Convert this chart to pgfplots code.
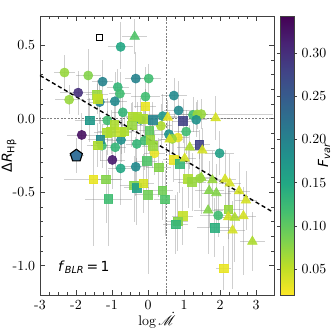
\documentclass[border=0pt]{standalone}
\usepackage{pgfplots}
\pgfplotsset{compat=1.18}
\usepackage{pgfplotstable}
\usepackage{fontspec}
\usepackage{mathrsfs}
\newfontfamily\dvs{DejaVu Sans}

% reversed viridis (yellow = low Fvar)
\pgfplotsset{colormap={viridisr}{
  rgb255=(253,231,37) rgb255=(189,223,38) rgb255=(122,209,81) rgb255=(68,191,112)
  rgb255=(34,168,132) rgb255=(33,145,140) rgb255=(42,120,142) rgb255=(53,95,141)
  rgb255=(65,68,135) rgb255=(72,36,117) rgb255=(68,1,84)}}
\definecolor{pentcol}{RGB}{55,115,155}

% x y Fvar xerr yerr- yerr+
\pgfplotstableread{
x y c ex eym eyp
-0.76  0.490 0.15 0.35 0.15 0.17
-2.32  0.315 0.07 0.30 0.12 0.12
-1.66  0.295 0.08 0.35 0.30 0.18
-1.26  0.253 0.20 0.30 0.12 0.15
-0.34  0.274 0.20 0.30 0.20 0.18
 0.02  0.274 0.12 0.35 0.10 0.10
-1.94  0.178 0.30 0.50 0.15 0.15
-2.19  0.130 0.07 0.40 0.10 0.10
-0.84  0.216 0.13 0.30 0.10 0.12
-0.78  0.171 0.12 0.30 0.15 0.15
-1.34  0.114 0.20 0.30 0.15 0.15
-0.92  0.119 0.19 0.35 0.20 0.20
-0.07  0.151 0.12 0.40 0.20 0.20
 0.72  0.158 0.19 0.35 0.15 0.12
 0.85  0.057 0.19 0.40 0.20 0.20
-0.70  0.044 0.13 0.30 0.15 0.15
-1.13 -0.011 0.12 0.40 0.15 0.15
-0.20 -0.007 0.18 0.35 0.15 0.15
 0.41  0.018 0.17 0.40 0.15 0.15
 1.25  0.027 0.12 0.40 0.12 0.12
 1.48  0.032 0.07 2.00 0.10 0.10
 1.37  0.030 0.07 0.30 0.10 0.10
 1.34 -0.007 0.18 0.30 0.12 0.12
 0.36 -0.048 0.06 0.30 0.15 0.15
-1.84 -0.110 0.33 0.40 0.15 0.15
 0.58 -0.105 0.18 0.40 0.15 0.15
 1.06 -0.087 0.12 0.35 0.15 0.15
 0.83 -0.128 0.03 0.30 0.12 0.12
 0.67 -0.137 0.07 0.30 0.12 0.12
-0.75 -0.144 0.18 0.35 0.15 0.15
-0.10 -0.149 0.12 0.35 0.20 0.20
-1.28 -0.183 0.12 0.30 0.15 0.15
-0.91 -0.194 0.13 0.30 0.15 0.15
-0.31 -0.171 0.13 0.30 0.15 0.15
 0.18 -0.235 0.03 0.30 0.15 0.15
-0.99 -0.280 0.32 0.35 0.20 0.20
-0.34 -0.327 0.19 0.35 0.20 0.20
-0.76 -0.338 0.15 0.35 0.25 0.20
 1.99 -0.235 0.16 0.40 0.15 0.15
 1.44 -0.406 0.07 0.40 0.20 0.20
 1.95 -0.658 0.12 0.50 0.15 0.15
}\circles

\pgfplotstableread{
x y c ex eym eyp
-1.42  0.164 0.07 0.30 0.10 0.10
-1.40  0.135 0.05 0.30 0.10 0.10
-0.08  0.084 0.03 0.30 0.12 0.12
-1.62 -0.011 0.17 0.40 0.15 0.15
-0.43  0.016 0.06 0.30 0.10 0.10
-0.30  0.012 0.06 0.30 0.10 0.10
-0.14  0.000 0.06 0.30 0.10 0.10
 0.13 -0.007 0.20 0.35 0.12 0.12
 0.97 -0.014 0.28 0.30 0.15 0.15
 1.42 -0.177 0.28 0.30 0.10 0.10
-1.14 -0.094 0.06 0.35 0.15 0.15
-1.03 -0.087 0.06 0.35 0.15 0.15
-0.94 -0.041 0.06 0.30 0.15 0.15
-0.75 -0.090 0.05 0.30 0.15 0.15
-0.66 -0.085 0.06 0.30 0.15 0.15
-0.45 -0.045 0.07 0.30 0.15 0.15
 0.04 -0.082 0.10 0.30 0.15 0.15
-1.33 -0.139 0.19 0.35 0.15 0.15
-1.40 -0.180 0.06 0.30 0.15 0.15
 0.06 -0.144 0.07 0.30 0.15 0.15
 0.13 -0.185 0.07 0.30 0.15 0.15
-0.04 -0.288 0.11 0.30 0.20 0.20
 0.30 -0.331 0.08 0.35 0.20 0.20
 0.71 -0.278 0.03 0.30 0.15 0.15
 0.88 -0.306 0.13 0.35 0.20 0.20
 1.11 -0.410 0.06 0.40 0.20 0.20
 1.22 -0.430 0.07 0.40 0.20 0.20
-0.39 -0.452 0.08 0.40 0.25 0.20
-0.32 -0.470 0.16 0.35 0.25 0.20
-0.13 -0.440 0.04 0.30 0.20 0.20
 0.00 -0.516 0.09 0.35 0.54 0.20
 0.40 -0.486 0.09 0.30 0.20 0.20
 0.47 -0.548 0.11 0.30 0.25 0.20
 0.96 -0.662 0.05 0.30 0.20 0.20
 0.82 -0.699 0.08 0.30 0.20 0.20
 0.77 -0.719 0.13 0.35 0.20 0.20
-1.52 -0.413 0.03 0.80 0.45 0.25
-1.17 -0.413 0.08 0.40 0.30 0.20
-1.10 -0.546 0.12 0.65 0.32 0.20
 2.23 -0.616 0.07 0.40 0.20 0.20
 1.85 -0.742 0.14 0.50 0.20 0.20
 2.10 -1.018 0.03 0.20 0.15 0.15
}\squares

\pgfplotstableread{
x y c ex eym eyp
-0.37  0.560 0.11 0.35 0.12 0.12
 0.55  0.009 0.03 0.30 0.12 0.12
 1.88  0.005 0.04 0.45 0.15 0.15
 1.51 -0.215 0.04 0.35 0.15 0.15
 1.16 -0.194 0.06 0.35 0.15 0.15
 1.02 -0.270 0.04 0.30 0.15 0.15
 0.60 -0.140 0.04 0.30 0.15 0.15
 1.48 -0.400 0.07 0.40 0.25 0.20
 1.79 -0.418 0.07 0.40 0.20 0.20
 2.14 -0.413 0.04 0.30 0.20 0.20
 2.27 -0.440 0.04 0.30 0.20 0.20
 2.53 -0.493 0.04 0.30 0.20 0.20
 2.72 -0.555 0.04 0.30 0.20 0.20
 1.70 -0.490 0.08 0.40 0.25 0.20
 1.90 -0.505 0.08 0.40 0.25 0.20
 1.67 -0.623 0.08 0.40 0.30 0.20
 2.23 -0.669 0.04 0.35 0.35 0.20
 2.41 -0.673 0.06 0.35 0.30 0.20
 2.65 -0.662 0.04 0.35 0.40 0.20
 2.35 -0.760 0.04 0.35 0.40 0.20
 2.90 -0.836 0.06 0.35 0.20 0.20
}\triangles

\pgfplotstableread{
x y c ex eym eyp
-1.99 -0.251 0.23 0.20 0.12 0.12
}\pentagon

% error bars only, no markers and no line
\pgfplotsset{
  errs/.style = {forget plot, draw=none, mark=none,
    error bars/.cd, x dir=both, x explicit, y dir=both, y explicit,
    error mark=none,
    error bar style={draw=gray, line width=0.5pt, draw opacity=0.38}},
}

\begin{document}
\begin{tikzpicture}
  \useasboundingbox (-28.8pt,-26.64pt) rectangle (210.24pt,212.4pt);
  \begin{axis}[
      scale only axis,
      width            = 168.48pt,
      height           = 200.88pt,
      xmin = -3, xmax = 3.5,
      ymin = -1.2, ymax = 0.7,
      xtick            = {-3,-2,-1,0,1,2,3},
      xticklabels      = {-3,-2,-1,0,1,2,3},
      ytick            = {-1,-0.5,0,0.5},
      yticklabels      = {-1.0,-0.5,0.0,0.5},
      minor x tick num = 3,
      minor y tick num = 4,
      tick align       = inside,
      tick pos         = both,
      major tick length = 3.5pt,
      minor tick length = 2pt,
      axis line style  = {black!75, line width=0.6pt},
      every tick/.style = {black!75, line width=0.5pt},
      xlabel           = {$\log \dot{\mathscr{M}}$},
      xlabel style     = {at={(axis description cs:0.5,-0.09)}, anchor=center},
      ylabel           = {{\dvs Δ\textit{R}\textsubscript{Hβ}}},
      ylabel style     = {at={(axis description cs:-0.132,0.5)}, anchor=center},
      colormap name    = viridisr,
      point meta min   = 0.02,
      point meta max   = 0.343,
      colorbar,
      colorbar style   = {
          width = 10.08pt,
          at = {(parent axis.north east)}, anchor = north west, xshift = -4.2pt,
          ytick = {0.05,0.10,0.15,0.20,0.25,0.30},
          yticklabel style = {/pgf/number format/.cd, fixed, fixed zerofill, precision=2},
          /pgf/number format/assume math mode = true,
          ylabel = {{\dvs\itshape F\textsubscript{var}}},
          ylabel style = {at={(axis description cs:3.15,0.5)}, anchor=center},
          tick align = outside,
          major tick length = 2pt,
          axis line style = {black!75, line width=0.5pt},
      },
      scatter/use mapped color = {draw=mapped color, fill=mapped color},
    ]

    % reference lines
    \addplot[forget plot, gray, line width=0.5pt, dash pattern=on 1.5pt off 1pt]
      coordinates {(0.5,-1.2) (0.5,0.7)};
    \addplot[forget plot, gray, line width=0.5pt, dash pattern=on 1.5pt off 1pt]
      coordinates {(-3,0) (3.5,0)};

    % markers
    \addplot[scatter, only marks, scatter src=explicit, mark=*, mark size=3.3pt, opacity=0.9]
      table[x=x, y=y, meta=c] {\circles};
    \addplot[scatter, only marks, scatter src=explicit, mark=square*, mark size=3.1pt, opacity=0.9]
      table[x=x, y=y, meta=c] {\squares};
    \addplot[scatter, only marks, scatter src=explicit, mark=triangle*, mark size=4pt, opacity=0.9]
      table[x=x, y=y, meta=c] {\triangles};
    \addplot[only marks, mark=pentagon*, mark size=4.6pt,
             mark options={draw=black, fill=pentcol, line width=0.8pt}]
      table[x=x, y=y] {\pentagon};
    \addplot[only marks, mark=square, mark size=2.2pt,
             mark options={draw=black, fill=none, line width=0.6pt}]
      coordinates {(-1.35,0.555)};

    % error bars
    \addplot[errs] table[x=x, y=y, x error=ex, y error plus=eyp, y error minus=eym] {\circles};
    \addplot[errs] table[x=x, y=y, x error=ex, y error plus=eyp, y error minus=eym] {\squares};
    \addplot[errs] table[x=x, y=y, x error=ex, y error plus=eyp, y error minus=eym] {\triangles};
    \addplot[errs] table[x=x, y=y, x error=ex, y error plus=eyp, y error minus=eym] {\pentagon};

    % fit
    \addplot[forget plot, black, line width=1pt, dash pattern=on 3pt off 2pt]
      coordinates {(-3,0.295) (3.42,-0.628)};

    \node[anchor=west, font=\dvs] at (axis cs:-2.63,-1.01)
      {\textit{f}\textsubscript{\itshape BLR}\,=\,1};
  \end{axis}
\end{tikzpicture}
\end{document}
